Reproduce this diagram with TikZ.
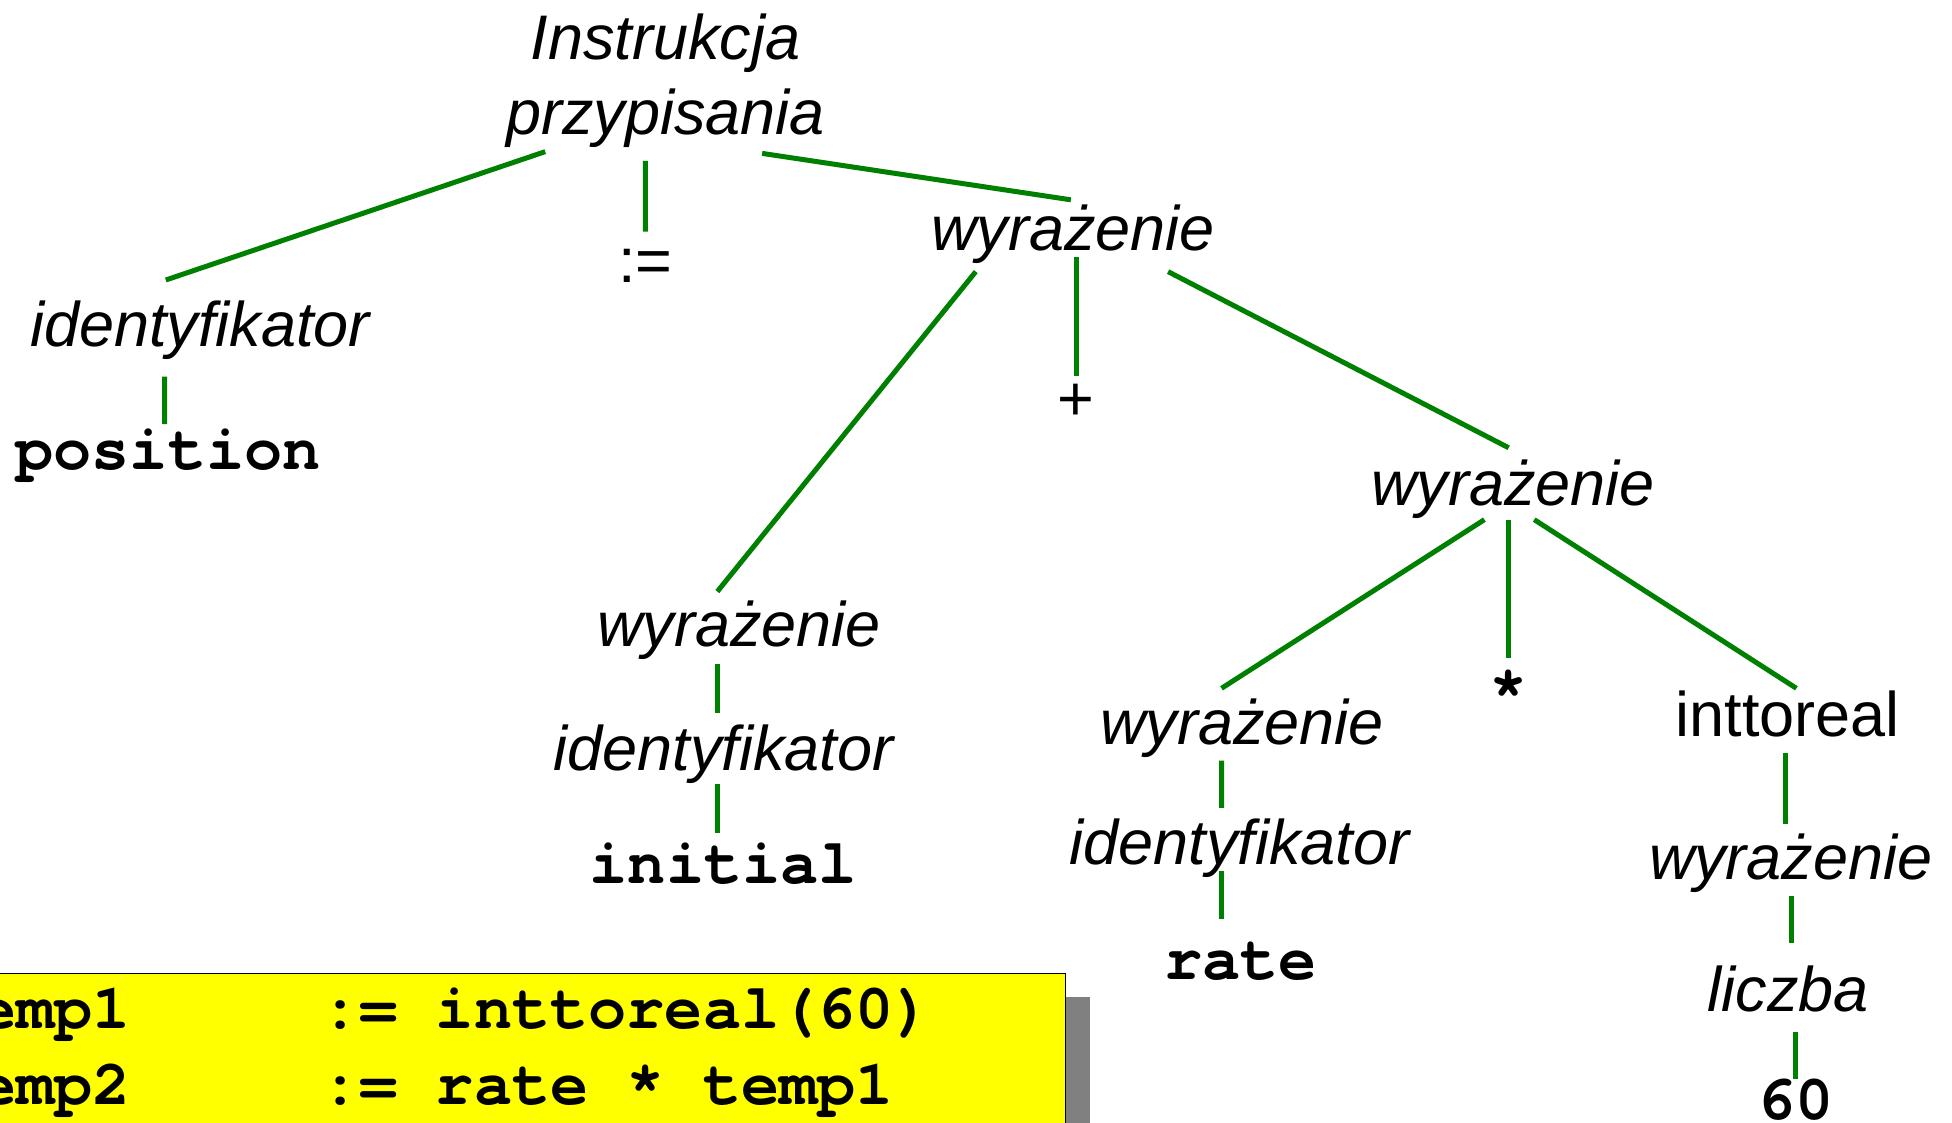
\documentclass[tikz,border=0pt]{standalone}
\usepackage{fontspec}
\setmainfont{Liberation Sans}
\newfontfamily\codefont{texgyrecursor}[Extension=.otf, UprightFont=*-regular, BoldFont=*-bold]
\definecolor{edgegreen}{RGB}{0,128,0}
\definecolor{boxyellow}{RGB}{255,255,0}
\definecolor{shadowgrey}{RGB}{128,128,128}
\tikzset{
  lbl/.style={anchor=base, inner sep=0pt, font=\fontsize{31.5}{37.8}\selectfont\itshape},
  plainlbl/.style={anchor=base, inner sep=0pt, font=\fontsize{31.5}{37.8}\selectfont},
  codelbl/.style={anchor=base, inner sep=0pt, font=\fontsize{31.8}{38.4}\selectfont\codefont\bfseries},
  edge/.style={draw=edgegreen, line width=2.5pt},
}
\begin{document}
\begin{tikzpicture}[x=0.6225pt,y=-0.6225pt]
\useasboundingbox (0,0) rectangle (1568,902);
% code box
\fill[shadowgrey] (14,800.5) rectangle (875.6,1000);
\filldraw[fill=boxyellow, draw=black, line width=0.6pt] (-5,782) rectangle (856,990);
\node[codelbl, anchor=base west, align=left] (code) at (-48.6,887.6)
  {temp1\hphantom{xxxxx}:= inttoreal(60)\\temp2\hphantom{xxxxx}:= rate * temp1};
% tree nodes
\node[lbl, anchor=center, align=center] (root) at (534.5,64.9) {Instrukcja\\przypisania};
\node[lbl] (id1) at (160.6,278.5) {identyfikator};
\node[codelbl] (pos) at (135,377.5) {position};
\node[plainlbl] (asg) at (518.6,227) {:=};
\node[lbl] (w1) at (862,201.3) {wyrażenie};
\node[plainlbl] (plus) at (864,338) {+};
\node[lbl] (w2) at (593.7,519.4) {wyrażenie};
\node[lbl] (id2) at (581,619) {identyfikator};
\node[codelbl] (init) at (581,709.5) {initial};
\node[lbl] (w3) at (1215.3,406.4) {wyrażenie};
\node[lbl] (w4) at (997.6,598.4) {wyrażenie};
\node[lbl] (id3) at (995.5,694.8) {identyfikator};
\node[codelbl] (rate) at (996.5,787) {rate};
\node[codelbl] (star) at (1211.9,570) {*};
\node[plainlbl] (intr) at (1436,591.7) {inttoreal};
\node[lbl] (w5) at (1438.5,706.8) {wyrażenie};
\node[lbl] (licz) at (1436.5,812.6) {liczba};
\node[codelbl] (sixty) at (1442,899) {60};
% connectors
\draw[edge] ([shift={(-96.5,56.9)}]root.center) -- ([shift={(-27.4,-53.6)}]id1.base);
\draw[edge] ([shift={(-16.1,64.4)}]root.center) -- ([shift={(-0.2,-40.9)}]asg.base);
\draw[edge] ([shift={(77.7,58.3)}]root.center) -- ([shift={(-1.8,-40.8)}]w1.base);
\draw[edge] ([shift={(-28.4,24.1)}]id1.base) -- ([shift={(-2.8,-36.9)}]pos.base);
\draw[edge] ([shift={(-78.2,16.9)}]w1.base) -- ([shift={(-17.5,-44.2)}]w2.base);
\draw[edge] ([shift={(3,5.2)}]w1.base) -- ([shift={(1,-36.1)}]plus.base);
\draw[edge] ([shift={(76.3,16.9)}]w1.base) -- ([shift={(-3.4,-46.7)}]w3.base);
\draw[edge] ([shift={(-17.7,14.2)}]w2.base) -- ([shift={(-5,-46.6)}]id2.base);
\draw[edge] ([shift={(-5,11)}]id2.base) -- ([shift={(-5,-40.7)}]init.base);
\draw[edge] ([shift={(-22.9,11)}]w3.base) -- ([shift={(-16.4,-45.5)}]w4.base);
\draw[edge] ([shift={(-3.4,11.2)}]w3.base) -- ([shift={(0,-41.2)}]star.base);
\draw[edge] ([shift={(17.1,11)}]w3.base) -- ([shift={(7,-38.8)}]intr.base);
\draw[edge] ([shift={(-16.4,12.6)}]w4.base) -- ([shift={(-14.3,-45.8)}]id3.base);
\draw[edge] ([shift={(-14.3,5.2)}]id3.base) -- ([shift={(-15.3,-49)}]rate.base);
\draw[edge] ([shift={(-1.4,12.9)}]intr.base) -- ([shift={(-3.9,-45)}]w5.base);
\draw[edge] ([shift={(0.7,12.9)}]w5.base) -- ([shift={(2.7,-55)}]licz.base);
\draw[edge] ([shift={(6.1,16)}]licz.base) -- ([shift={(0.6,-32)}]sixty.base);
\end{tikzpicture}
\end{document}
